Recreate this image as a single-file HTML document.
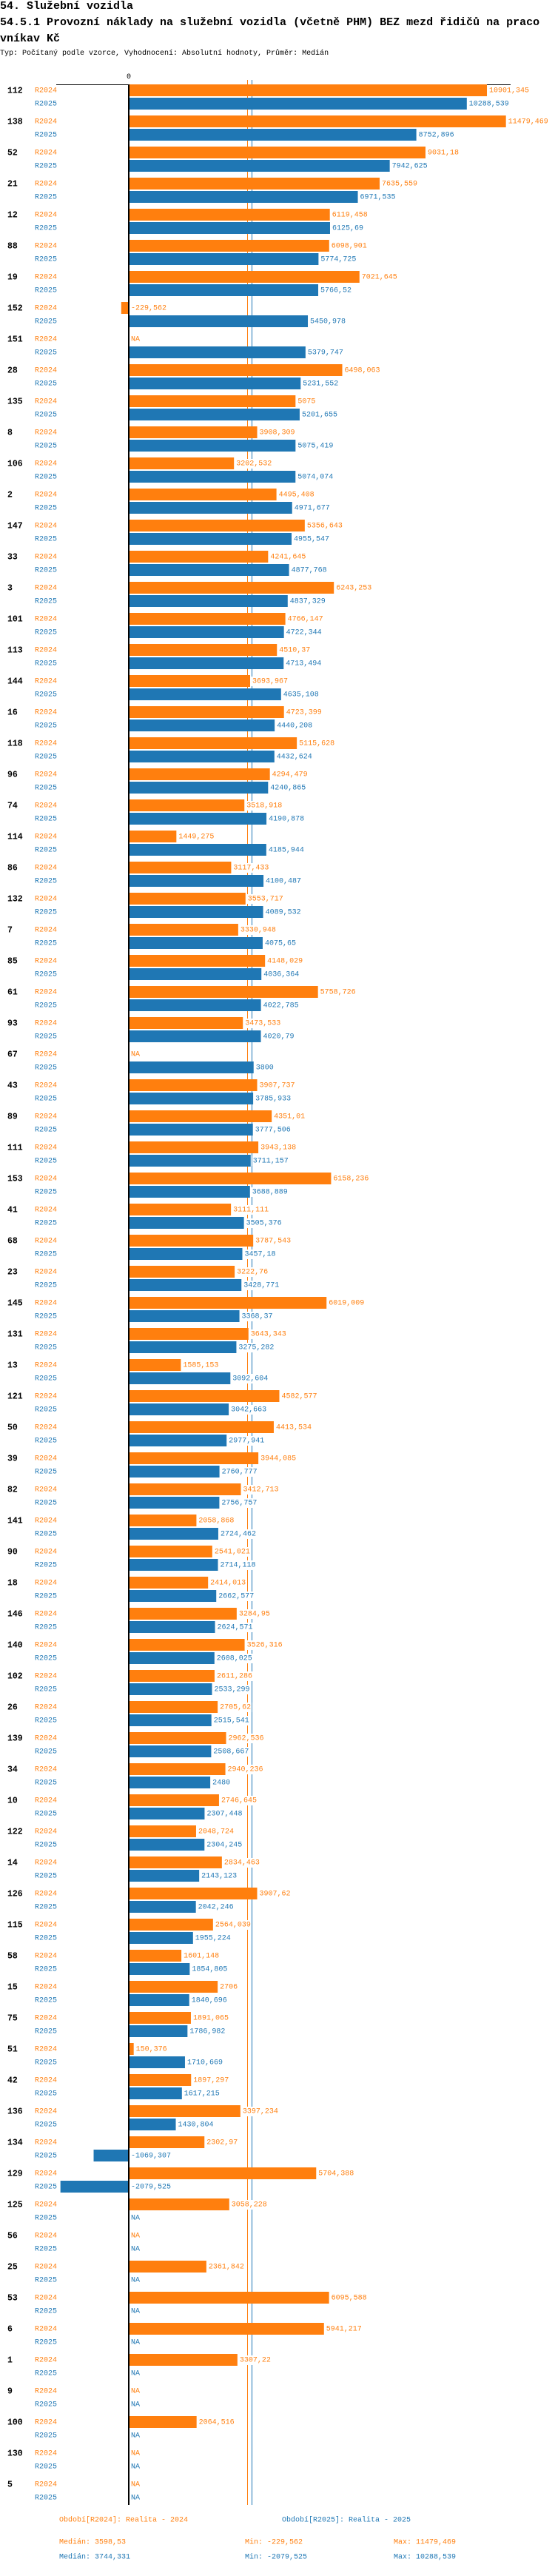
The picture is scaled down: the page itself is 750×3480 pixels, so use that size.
<!DOCTYPE html>
<html><head><meta charset="utf-8">
<style>
body{margin:0;background:#fff;width:750px;height:3480px;overflow:hidden}
#hdr{position:absolute;left:0;top:0;font-family:"Liberation Mono",monospace;color:#000}
.t{position:absolute;left:0;white-space:nowrap;font-weight:bold;font-size:15px}
.s{position:absolute;left:0;white-space:nowrap;font-size:10px}
svg{position:absolute;left:0;top:0}
text{font-family:"Liberation Mono",monospace}
</style></head><body>
<div id="hdr">
<div class="t" style="top:0px">54. Služební vozidla</div>
<div class="t" style="top:22px">54.5.1 Provozní náklady na služební vozidla (včetně PHM) BEZ mezd řidičů na praco</div>
<div class="t" style="top:44px">vníkav Kč</div>
<div class="s" style="top:67px">Typ: Počítaný podle vzorce, Vyhodnocení: Absolutní hodnoty, Průměr: Medián</div>
</div>
<svg id="chart" width="750" height="3480"></svg>
<script>
const categories=["112","138","52","21","12","88","19","152","151","28","135","8","106","2","147","33","3","101","113","144","16","118","96","74","114","86","132","7","85","61","93","67","43","89","111","153","41","68","23","145","131","13","121","50","39","82","141","90","18","146","140","102","26","139","34","10","122","14","126","115","58","15","75","51","42","136","134","129","125","56","25","53","6","1","9","100","130","5"];
const r2024=[10901.345,11479.469,9031.18,7635.559,6119.458,6098.901,7021.645,-229.562,null,6498.063,5075,3908.309,3202.532,4495.408,5356.643,4241.645,6243.253,4766.147,4510.37,3693.967,4723.399,5115.628,4294.479,3518.918,1449.275,3117.433,3553.717,3330.948,4148.029,5758.726,3473.533,null,3907.737,4351.01,3943.138,6158.236,3111.111,3787.543,3222.76,6019.009,3643.343,1585.153,4582.577,4413.534,3944.085,3412.713,2058.868,2541.021,2414.013,3284.95,3526.316,2611.286,2705.62,2962.536,2940.236,2746.645,2048.724,2834.463,3907.62,2564.039,1601.148,2706,1891.065,150.376,1897.297,3397.234,2302.97,5704.388,3058.228,null,2361.842,6095.588,5941.217,3307.22,null,2064.516,null,null];
const r2025=[10288.539,8752.896,7942.625,6971.535,6125.69,5774.725,5766.52,5450.978,5379.747,5231.552,5201.655,5075.419,5074.074,4971.677,4955.547,4877.768,4837.329,4722.344,4713.494,4635.108,4440.208,4432.624,4240.865,4190.878,4185.944,4100.487,4089.532,4075.65,4036.364,4022.785,4020.79,3800,3785.933,3777.506,3711.157,3688.889,3505.376,3457.18,3428.771,3368.37,3275.282,3092.604,3042.663,2977.941,2760.777,2756.757,2724.462,2714.118,2662.577,2624.571,2608.025,2533.299,2515.541,2508.667,2480,2307.448,2304.245,2143.123,2042.246,1955.224,1854.805,1840.696,1786.982,1710.669,1617.215,1430.804,-1069.307,-2079.525,null,null,null,null,null,null,null,null,null,null];
const seriesNames=["R2024","R2025"];
const medians=[3598.53,3744.331];
const mins=[-229.562,-2079.525];
const maxs=[11479.469,10288.539];

const NS="http://www.w3.org/2000/svg";
const svg=document.getElementById('chart');
const COL=["#ff7f0e","#1f77b4"];
const X0=174, K=0.0444, TOP=114, STEP=42;
function xs(v){return X0+v*K;}
function rowY(i,s){return TOP+STEP*i+s*18;}
function fmt(v){return String(v).replace('.',',');}
function el(tag,attrs,txt){const e=document.createElementNS(NS,tag);for(const k in attrs)e.setAttribute(k,attrs[k]);if(txt!=null)e.textContent=txt;svg.appendChild(e);return e;}
const bottom=TOP+STEP*categories.length-6;

// top axis line and zero label
let e=el('line',{x1:76,x2:690,y1:114.5,y2:114.5,stroke:'#000','stroke-width':1});


e=el('text',{x:X0,y:106,'font-size':10,'text-anchor':'middle',fill:'#000'},'0');



// median lines
medians.forEach((m,s)=>{
  const l=el('line',{x1:Math.round(xs(m))+0.5,x2:Math.round(xs(m))+0.5,y1:108,y2:bottom,stroke:COL[s],'stroke-width':1});
  
  
});

categories.forEach((c,i)=>{
  const t=el('text',{x:10,y:rowY(i,0)+9,'font-size':11.5,'font-weight':'bold',fill:'#000','dominant-baseline':'central'},c);
  
  
  [r2024,r2025].forEach((arr,s)=>{
    const v=arr[i];const y=rowY(i,s);
    const lt=el('text',{x:47,y:y+9,'font-size':10,fill:COL[s],'dominant-baseline':'central'},seriesNames[s]);
    
    
    let tx;const str=v==null?'NA':fmt(v);
    if(v!=null){
      const x1=v>=0?X0+1:xs(v);const w=v>=0?xs(v)-X0-1:X0-1-xs(v);
      const b=el('rect',{x:x1,y:y,width:Math.max(w,0),height:16,fill:COL[s]});
      
      
      tx=v>=0?xs(v)+3:X0+3;
    } else tx=X0+3;
    const bg=el('rect',{x:tx-1,y:y+2,width:str.length*6+2,height:13,fill:'#fff'});
    
    
    const vt=el('text',{x:tx,y:y+9,'font-size':10,fill:COL[s],'dominant-baseline':'central'},str);
    
    
  });
});

// zero axis
e=el('line',{x1:X0,x2:X0,y1:114,y2:bottom,stroke:'#000','stroke-width':2});



// legend and stats
const legY=bottom+21;
[[80,'Období[R2024]: Realita - 2024',0],[381,'Období[R2025]: Realita - 2025',1]].forEach(([x,t,s])=>{
  const l=el('text',{x:x,y:legY,'font-size':10,fill:COL[s],'dominant-baseline':'central'},t);
  
  
});
[0,1].forEach(s=>{
  const y=legY+30+s*20;
  let t=el('text',{x:80,y:y,'font-size':10,fill:COL[s],'dominant-baseline':'central'},'Medián: '+fmt(medians[s]));
  
  
  t=el('text',{x:331,y:y,'font-size':10,fill:COL[s],'dominant-baseline':'central'},'Min: '+fmt(mins[s]));
  
  
  t=el('text',{x:532,y:y,'font-size':10,fill:COL[s],'dominant-baseline':'central'},'Max: '+fmt(maxs[s]));
  
  
});
</script>
</body></html>
